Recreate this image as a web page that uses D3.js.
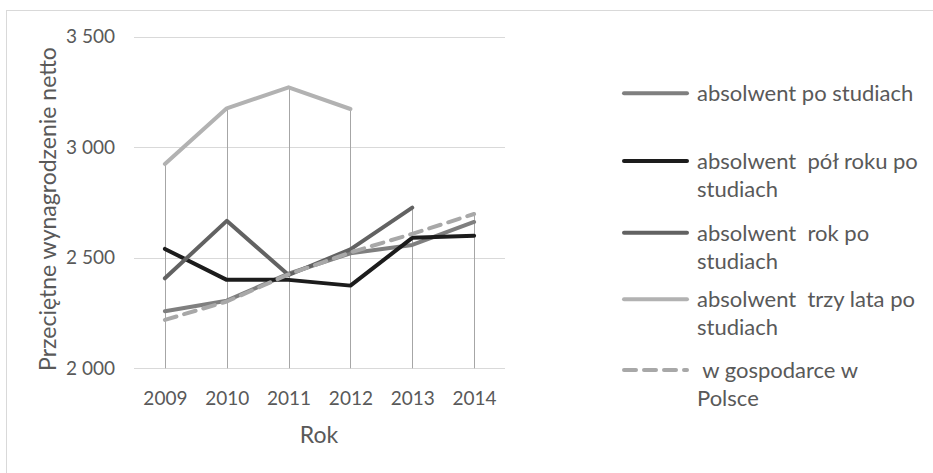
<!DOCTYPE html>
<html>
<head>
<meta charset="utf-8">
<script src="https://cdn.jsdelivr.net/npm/d3@7"></script>
<style>
  html, body { margin: 0; padding: 0; background: #fff; }
  svg { display: block; font-family: Lato, "Open Sans", sans-serif; }
</style>
</head>
<body>
<svg id="chart" width="933" height="473"></svg>
<script>
// Lata na osi X
const years = ["2009", "2010", "2011", "2012", "2013", "2014"];

// Przeciętne wynagrodzenie netto (zł) według grupy
const poStudiach      = [2258, 2306, 2428, 2520, 2558, 2662];
const polRokuPo       = [2540, 2400, 2400, 2374, 2590, 2600];
const rokPo           = [2407, 2667, 2422, 2538, 2727, null];
const trzyLataPo      = [2924, 3176, 3271, 3173, null, null];
const wGospodarce     = [2219, 2302, 2425, 2524, 2608, 2698];

const yTicks = [2000, 2500, 3000, 3500];

const series = [
  { name: ["absolwent po studiach"], values: poStudiach, color: "#7f7f7f", dash: null },
  { name: ["absolwent  pół roku po", "studiach"], values: polRokuPo, color: "#1c1c1c", dash: null },
  { name: ["absolwent  rok po", "studiach"], values: rokPo, color: "#626262", dash: null },
  { name: ["absolwent  trzy lata po", "studiach"], values: trzyLataPo, color: "#b2b2b2", dash: null },
  { name: [" w gospodarce w", "Polsce"], values: wGospodarce, color: "#a8a8a8", dash: "12,8" }
];

const svg = d3.select("#chart");
const textColor = "#595959";
const textSize = 22;   // legenda
const titleSize = 23;  // tytuły osi
const tickSize = 19;   // etykiety osi

// obramowanie obszaru wykresu
svg.append("rect")
  .attr("x", 6.5).attr("y", 10.5)
  .attr("width", 960).attr("height", 500)
  .attr("fill", "none").attr("stroke", "#d9d9d9").attr("stroke-width", 1);

const plot = { left: 134, right: 505, top: 36.7, bottom: 368.3 };

const x = d3.scalePoint().domain(years).range([plot.left, plot.right]).padding(0.5);
const y = d3.scaleLinear().domain([2000, 3500]).range([plot.bottom, plot.top]);

// linie siatki poziomej
svg.append("g").selectAll("line").data(yTicks).join("line")
  .attr("x1", plot.left).attr("x2", plot.right)
  .attr("y1", d => Math.round(y(d)) + 0.5).attr("y2", d => Math.round(y(d)) + 0.5)
  .attr("stroke", "#d9d9d9").attr("stroke-width", 1);

// etykiety osi Y (separator tysięcy: spacja)
const yAxis = d3.axisLeft(y).tickValues(yTicks).tickSize(0).tickPadding(0)
  .tickFormat(d => d3.format(",")(d).replace(",", "\u00a0"));
const gy = svg.append("g").attr("transform", `translate(${plot.left - 19},0)`).call(yAxis);
gy.select(".domain").remove();
gy.selectAll("text").attr("fill", textColor).attr("font-size", tickSize)
  .attr("font-family", "Lato, 'Open Sans', sans-serif");

// etykiety osi X
const xAxis = d3.axisBottom(x).tickSize(0).tickPadding(0);
const gx = svg.append("g").attr("transform", `translate(0,${plot.bottom + 23})`).call(xAxis);
gx.select(".domain").remove();
gx.selectAll("text").attr("fill", textColor).attr("font-size", tickSize)
  .attr("font-family", "Lato, 'Open Sans', sans-serif");

// linie pionowe od najwyższej wartości do osi
const maxByYear = years.map((yr, i) => ({
  yr, v: d3.max(series, s => s.values[i])
}));
svg.append("g").selectAll("line").data(maxByYear).join("line")
  .attr("x1", d => Math.round(x(d.yr)) + 0.5).attr("x2", d => Math.round(x(d.yr)) + 0.5)
  .attr("y1", d => y(d.v)).attr("y2", plot.bottom)
  .attr("stroke", "#a6a6a6").attr("stroke-width", 1);

// serie danych
const line = d3.line()
  .defined(d => d != null)
  .x((d, i) => x(years[i]))
  .y(d => y(d));

svg.append("g").selectAll("path").data(series).join("path")
  .attr("d", s => line(s.values))
  .attr("fill", "none")
  .attr("stroke", s => s.color)
  .attr("stroke-width", 4)
  .attr("stroke-linecap", "round")
  .attr("stroke-linejoin", "round")
  .attr("stroke-dasharray", s => s.dash);

// tytuły osi
svg.append("text")
  .attr("transform", "translate(56,209) rotate(-90)")
  .attr("text-anchor", "middle")
  .attr("fill", textColor).attr("font-size", titleSize)
  .text("Przeciętne wynagrodzenie netto");

svg.append("text")
  .attr("x", 319).attr("y", 443)
  .attr("text-anchor", "middle")
  .attr("fill", textColor).attr("font-size", titleSize)
  .text("Rok");

// legenda
const legendY = [93.3, 161, 232.7, 299.3, 370];
const lg = svg.append("g").selectAll("g").data(series).join("g")
  .attr("transform", (s, i) => `translate(0,${legendY[i]})`);
lg.append("line")
  .attr("x1", 624).attr("x2", 687).attr("y1", 0).attr("y2", 0)
  .attr("stroke", s => s.color).attr("stroke-width", 4)
  .attr("stroke-linecap", "round")
  .attr("stroke-dasharray", s => s.dash);
lg.append("text")
  .attr("x", 697)
  .attr("fill", textColor).attr("font-size", textSize)
  .style("white-space", "pre")
  .selectAll("tspan").data(s => s.name).join("tspan")
  .attr("x", 697)
  .attr("y", (d, i) => 8 + i * 28)
  .text(d => d);
</script>
</body>
</html>
